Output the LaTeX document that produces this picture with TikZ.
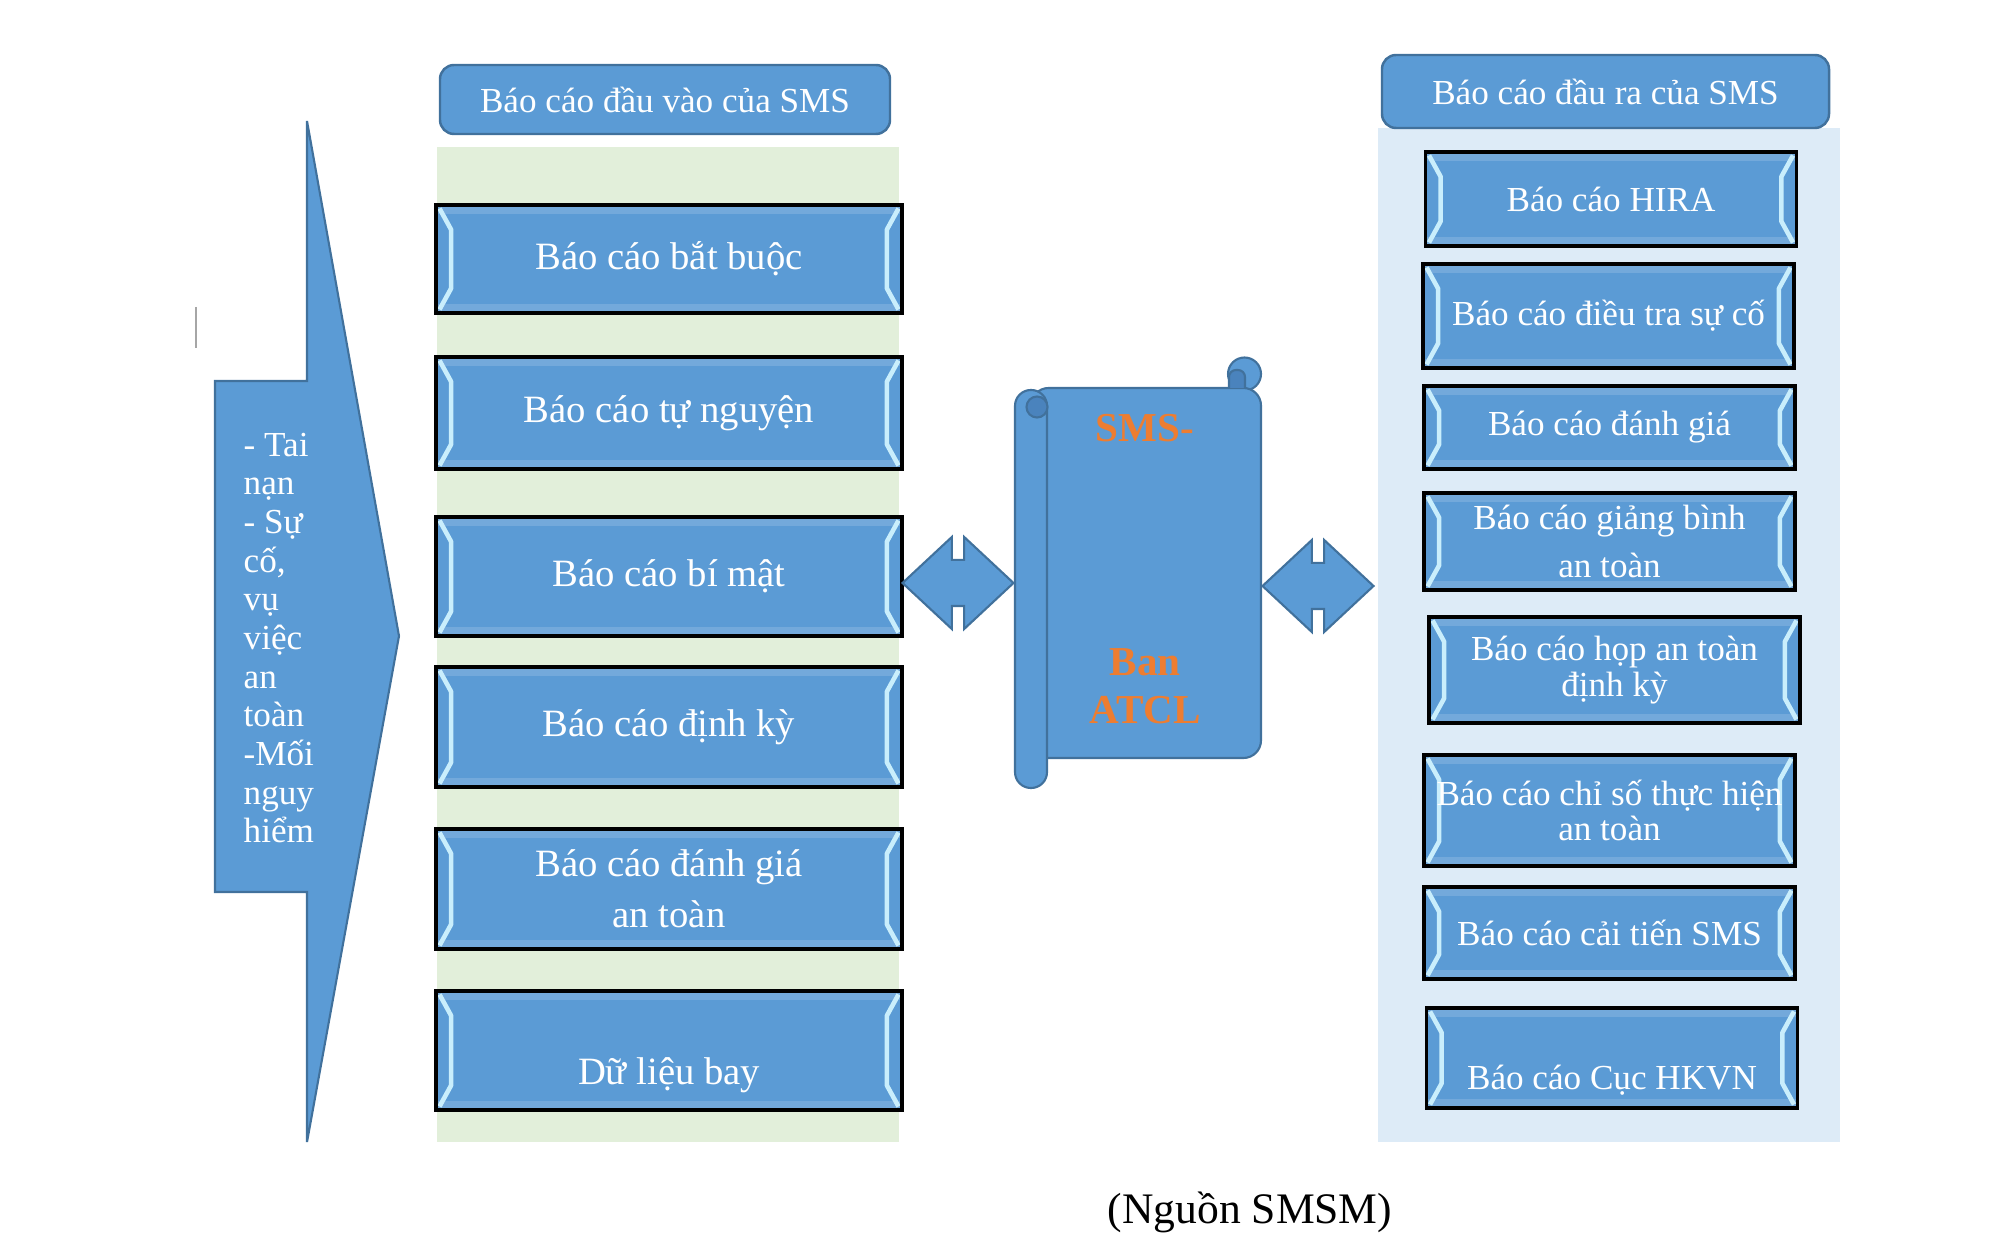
\documentclass[tikz,border=0pt]{standalone}
\usepackage{fontspec}
\setmainfont{Liberation Serif}
\usetikzlibrary{shapes.arrows}

\definecolor{repblue}{HTML}{5B9BD5}
\definecolor{repline}{HTML}{41719C}
\definecolor{greencol}{HTML}{E2EFDA}
\definecolor{bluecol}{HTML}{DDEBF7}
\definecolor{bevelhi}{HTML}{C9EEFC}
\definecolor{curl}{HTML}{4A83BD}
\definecolor{atcl}{HTML}{ED7D31}

\tikzset{
  bevel/.style={draw=bevelhi, line width=1.3pt, line join=round},
  rep/.style={draw=black, line width=0.9pt, fill=repblue, text=white, align=center, inner sep=0pt,
    path picture={
      \fill[white, opacity=.15] (path picture bounding box.north west) rectangle ([yshift=-2.5pt]path picture bounding box.north east);
      \fill[white, opacity=.15] (path picture bounding box.south west) rectangle ([yshift=2.5pt]path picture bounding box.south east);
      \draw[bevel] ([xshift=1pt,yshift=-1pt]path picture bounding box.north west) -- ([xshift=4.3pt,yshift=-7pt]path picture bounding box.north west)
        -- ([xshift=4.3pt,yshift=7pt]path picture bounding box.south west) -- ([xshift=1pt,yshift=1pt]path picture bounding box.south west);
      \draw[bevel] ([xshift=-1pt,yshift=-1pt]path picture bounding box.north east) -- ([xshift=-4.3pt,yshift=-7pt]path picture bounding box.north east)
        -- ([xshift=-4.3pt,yshift=7pt]path picture bounding box.south east) -- ([xshift=-1pt,yshift=1pt]path picture bounding box.south east);
    }},
  inrep/.style={rep, minimum width=4.66cm, font=\fontsize{11}{14.5}\selectfont},
  outrep/.style={rep, minimum width=3.71cm, font=\fontsize{10}{10.2}\selectfont},
  head/.style={draw=repline, line width=0.7pt, fill=repblue, rounded corners=4pt, text=white, font=\fontsize{10}{12}\selectfont},
  twoway/.style={double arrow, draw=repline, fill=repblue, line width=0.6pt, minimum width=0pt, minimum height=1.11cm,
    inner xsep=0pt, inner ysep=0.22cm, double arrow head extend=0.23cm, double arrow tip angle=86},
  scroll/.style={draw=repline, fill=repblue, line width=0.6pt},
  atcltext/.style={text=atcl, align=center, font=\fontsize{11.7}{13.7}\selectfont\bfseries},
}

\begin{document}
\begin{tikzpicture}[x=1cm, y=-1cm]
\useasboundingbox (0,0) rectangle (20.06,12.42);

\fill[greencol] (4.37,1.47) rectangle (8.99,11.42);
\fill[bluecol] (13.78,1.28) rectangle (18.40,11.42);

\draw[gray!70, line width=0.4pt] (1.96,3.07) -- (1.96,3.48);

\draw[scroll] (2.15,3.81) -- (3.07,3.81) -- (3.07,1.21) -- (3.99,6.36) -- (3.07,11.42) -- (3.07,8.92) -- (2.15,8.92) -- cycle;
\node[anchor=west, align=left, inner sep=0pt, text=white, font=\fontsize{10}{11}\selectfont] (events) at (2.43,6.38)
  {- Tai\\nạn\\- Sự\\cố,\\vụ\\việc\\an\\toàn\\-Mối\\nguy\\hiểm};

\node[head, minimum width=4.50cm, minimum height=0.69cm] (inhead) at (6.65,0.995) {Báo cáo đầu vào của SMS};
\node[inrep, minimum height=1.08cm] (in1) at (6.69,2.59) {Báo cáo bắt buộc};
\node[inrep, minimum height=1.12cm] (in2) at (6.69,4.13) {Báo cáo tự nguyện};
\node[inrep, minimum height=1.19cm] (in3) at (6.69,5.765) {Báo cáo bí mật};
\node[inrep, minimum height=1.20cm] (in4) at (6.69,7.27) {Báo cáo định kỳ};
\node[inrep, minimum height=1.20cm] (in5) at (6.69,8.89) {Báo cáo đánh giá\\an toàn};
\node[inrep, minimum height=1.19cm, font=\fontsize{11}{21.8}\selectfont] (in6) at (6.69,10.505) {\mbox{}\\Dữ liệu bay};

\node[twoway] (inarrow) at (9.58,5.83) {};
\node[twoway] (outarrow) at (13.18,5.86) {};

\draw[scroll] (12.445,3.74) circle (0.165);
\draw[scroll, rounded corners=5pt] (10.31,3.88) -- (12.61,3.88) -- (12.61,7.58) -- (10.31,7.58) -- cycle;
\draw[scroll, fill=curl, rounded corners=2pt] (12.29,3.88) -- (12.29,3.70) -- (12.45,3.70) -- (12.45,3.88);
\draw[scroll, rounded corners=4.5pt] (10.15,3.90) rectangle (10.47,7.88);
\draw[repline, line width=0.6pt] (10.47,4.07) -- (10.47,7.58);
\draw[scroll, fill=curl] (10.37,4.07) circle (0.105);
\node[atcltext] (sms) at (11.45,4.28) {SMS-};
\node[atcltext] (ban) at (11.45,6.86) {Ban\\ATCL};

\node[head, minimum width=4.47cm, minimum height=0.73cm] (outhead) at (16.055,0.915) {Báo cáo đầu ra của SMS};
\node[outrep, minimum height=0.94cm] (out1) at (16.11,1.99) {Báo cáo HIRA};
\node[outrep, minimum height=1.04cm] (out2) at (16.085,3.16) {Báo cáo điều tra sự cố};
\node[outrep, minimum height=0.83cm] (out3) at (16.095,4.275) {Báo cáo đánh giá};
\node[outrep, minimum height=0.97cm, font=\fontsize{10}{13.9}\selectfont] (out4) at (16.095,5.415) {Báo cáo giảng bình\\an toàn};
\node[outrep, minimum height=1.06cm] (out5) at (16.145,6.70) {Báo cáo họp an toàn\\định kỳ};
\node[outrep, minimum height=1.11cm] (out6) at (16.095,8.105) {Báo cáo chỉ số thực hiện\\an toàn};
\node[outrep, minimum height=0.92cm] (out7) at (16.095,9.33) {Báo cáo cải tiến SMS};
\node[outrep, minimum height=1.00cm, font=\fontsize{10}{19.4}\selectfont] (out8) at (16.12,10.58) {\mbox{}\\Báo cáo Cục HKVN};

\node[font=\fontsize{12.4}{14}\selectfont] (source) at (12.5,12.12) {(Nguồn SMSM)};
\end{tikzpicture}
\end{document}
